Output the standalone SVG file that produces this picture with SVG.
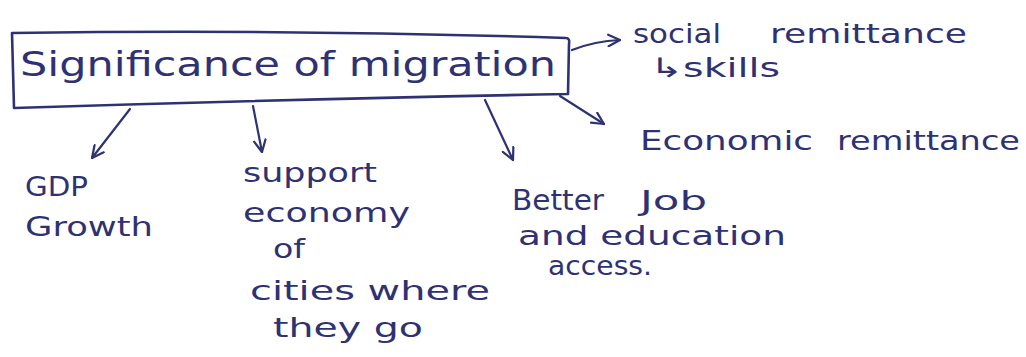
<svg xmlns="http://www.w3.org/2000/svg" width="1026" height="357" viewBox="0 0 1026 357">
  <style>
    .ink { fill: #2f3272; font-family: "DejaVu Sans", "Liberation Sans", sans-serif; font-size: 27px; }
    .title { font-size: 33px; }
    .box { fill: none; stroke: #2f3272; stroke-width: 2.6; stroke-linejoin: round; }
    .conn { fill: none; stroke: #2f3272; stroke-width: 2.2; stroke-linecap: round; marker-end: url(#vhead); }
  </style>
  <defs>
    <!-- open V arrowhead, drawn like a pen stroke -->
    <marker id="vhead" viewBox="0 0 12 12" refX="11" refY="6" markerWidth="14" markerHeight="14" markerUnits="userSpaceOnUse" orient="auto">
      <path d="M1,1 L11,6 L1,11" fill="none" stroke="#2f3272" stroke-width="1.9" stroke-linecap="round" stroke-linejoin="round"/>
    </marker>
  </defs>
  <rect width="1026" height="357" fill="#ffffff"/>

  <g id="main">
    <path class="box" d="M12,33 Q290,29 566,38 Q570,38 569,44 L568,94 Q300,99 14,108 Z"/>
    <text class="ink title" x="20" y="76" textLength="536" lengthAdjust="spacingAndGlyphs">Significance of migration</text>
  </g>

  <g id="connectors">
    <path class="conn" d="M130,109 L92,158"/>
    <path class="conn" d="M253,106 L262,152"/>
    <path class="conn" d="M485,100 L513,160"/>
    <path class="conn" d="M560,96 L604,124"/>
    <path class="conn" d="M572,50 Q595,41 620,40"/>
  </g>

  <g id="social">
    <text class="ink" y="43"><tspan x="633" textLength="88" lengthAdjust="spacingAndGlyphs">social</tspan><tspan x="770" textLength="197" lengthAdjust="spacingAndGlyphs">remittance</tspan></text>
    <text class="ink" x="650" y="77" font-size="26" textLength="130" lengthAdjust="spacingAndGlyphs">↳skills</text>
  </g>

  <g id="economic">
    <text class="ink" y="150"><tspan x="640" textLength="173" lengthAdjust="spacingAndGlyphs">Economic</tspan><tspan x="837" textLength="183" lengthAdjust="spacingAndGlyphs">remittance</tspan></text>
  </g>

  <g id="gdp">
    <text class="ink" x="25" y="196" textLength="63" lengthAdjust="spacingAndGlyphs">GDP</text>
    <text class="ink" x="25" y="236" textLength="128" lengthAdjust="spacingAndGlyphs">Growth</text>
  </g>

  <g id="cities">
    <text class="ink" x="243" y="182" textLength="134" lengthAdjust="spacingAndGlyphs">support</text>
    <text class="ink" x="243" y="222" textLength="167" lengthAdjust="spacingAndGlyphs">economy</text>
    <text class="ink" x="273" y="258" textLength="32" lengthAdjust="spacingAndGlyphs">of</text>
    <text class="ink" x="250" y="300" textLength="240" lengthAdjust="spacingAndGlyphs">cities where</text>
    <text class="ink" x="273" y="337" textLength="150" lengthAdjust="spacingAndGlyphs">they go</text>
  </g>

  <g id="jobs">
    <text class="ink" y="210"><tspan x="512" font-size="28" textLength="92" lengthAdjust="spacingAndGlyphs">Better</tspan><tspan x="640" textLength="67" lengthAdjust="spacingAndGlyphs">Job</tspan></text>
    <text class="ink" x="518" y="245" textLength="268" lengthAdjust="spacingAndGlyphs">and education</text>
    <text class="ink" x="548" y="275" textLength="104" lengthAdjust="spacingAndGlyphs">access.</text>
  </g>
</svg>
